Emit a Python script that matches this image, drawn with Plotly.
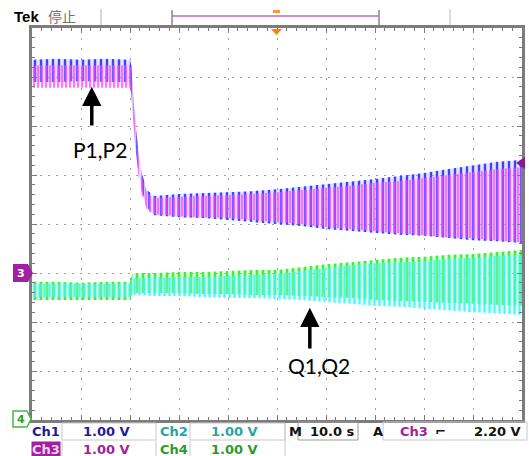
import plotly.graph_objects as go

# ---------------- data (volts, 1 V/div, time in s) -------------
t_p = [0, 5, 10, 15, 20, 20.3, 20.7, 21.2, 21.8, 22.5, 23.5, 25, 30, 35, 40, 45, 50,
       55, 60, 65, 70, 75, 80, 85, 90, 95, 100]
ch1_hi = [3.35, 3.37, 3.35, 3.37, 3.35, 3.22, 2.61, 1.96, 1.41, 1.00, 0.69, 0.57, 0.61,
          0.63, 0.65, 0.67, 0.71, 0.76, 0.82, 0.86, 0.92, 0.98, 1.04, 1.12, 1.20, 1.27, 1.31]
ch1_lo = [2.90, 2.90, 2.92, 2.90, 2.90, 2.63, 2.02, 1.47, 1.00, 0.65, 0.33, 0.18, 0.14,
          0.12, 0.08, 0.04, 0.00, -0.04, -0.10, -0.14, -0.18, -0.22, -0.24, -0.29, -0.33, -0.35, -0.39]
ch3_hi = [3.24, 3.24, 3.24, 3.24, 3.24, 3.14, 2.53, 1.90, 1.35, 0.94, 0.63, 0.53, 0.55,
          0.57, 0.59, 0.61, 0.65, 0.69, 0.73, 0.78, 0.84, 0.88, 0.94, 1.00, 1.06, 1.12, 1.16]
ch3_lo = [2.78, 2.78, 2.78, 2.78, 2.78, 2.57, 1.96, 1.41, 0.94, 0.57, 0.27, 0.20, 0.16,
          0.14, 0.12, 0.08, 0.04, 0.00, -0.06, -0.10, -0.14, -0.18, -0.22, -0.27, -0.29, -0.33, -0.37]

t_q = [0, 5, 10, 15, 20, 20.5, 25, 30, 35, 40, 45, 50, 55, 60, 65, 70, 75, 80, 85, 90, 95, 100]
ch4_hi = [-1.18, -1.18, -1.20, -1.18, -1.18, -1.00, -1.00, -0.98, -0.98, -0.96, -0.94,
          -0.94, -0.88, -0.82, -0.78, -0.73, -0.69, -0.67, -0.63, -0.61, -0.57, -0.53]
ch4_lo = [-1.55, -1.55, -1.55, -1.55, -1.55, -1.41, -1.41, -1.41, -1.43, -1.43, -1.45,
          -1.45, -1.47, -1.49, -1.51, -1.55, -1.57, -1.59, -1.61, -1.63, -1.65, -1.67]
ch2_hi = [-1.22, -1.22, -1.22, -1.22, -1.22, -1.10, -1.10, -1.08, -1.08, -1.06, -1.04,
          -1.02, -0.96, -0.90, -0.84, -0.80, -0.78, -0.76, -0.71, -0.69, -0.65, -0.63]
ch2_lo = [-1.49, -1.49, -1.49, -1.49, -1.49, -1.45, -1.47, -1.47, -1.49, -1.51, -1.51,
          -1.53, -1.55, -1.59, -1.63, -1.67, -1.69, -1.73, -1.76, -1.80, -1.82, -1.86]

p_arrow = (12.2, 2.80, 1.98)     # time, tip volts, tail volts
q_arrow = (56.7, -1.71, -2.57)
p_label = "P1,P2"
q_label = "Q1,Q2"

# readout texts
row1 = [("Ch1", "#1c1c9c"), ("1.00 V", "#1c1c9c"), ("Ch2", "#26a4a4"), ("1.00 V", "#26a4a4"),
        ("M", "#111111"), ("10.0 s", "#111111"), ("A", "#111111"), ("Ch3", "#a020a0"),
        ("2.20 V", "#111111")]
row2 = [("1.00 V", "#a020a0"), ("Ch4", "#2c9a2c"), ("1.00 V", "#2c9a2c")]

# ---------------- layout geometry ----------------
W, H = 529, 456
L, R, T, B = 32, 7, 28, 36
PW, PH = W - L - R, H - T - B


def px(x):
    return (x - L) / PW


def py(y):
    return (H - B - y) / PH


fig = go.Figure()


def band(t, lo, hi, fg, bg, size, sol, name):
    fig.add_trace(go.Scatter(x=t, y=lo, mode="lines", line=dict(width=0),
                             hoverinfo="skip", showlegend=False))
    fig.add_trace(go.Scatter(x=t, y=hi, mode="lines", line=dict(width=0), fill="tonexty",
                             fillcolor=bg,
                             fillpattern=dict(shape="|", fgcolor=fg, bgcolor=bg,
                                              size=size, solidity=sol),
                             name=name, showlegend=False))


band(t_p, ch1_lo, ch1_hi, "rgba(55,55,255,0.95)", "rgba(170,170,255,0.3)", 6, 0.4, "Ch1")
band(t_p, ch3_lo, ch3_hi, "rgba(255,50,255,0.7)", "rgba(255,180,255,0.25)", 4, 0.45, "Ch3")
band(t_q, ch4_lo, ch4_hi, "rgba(60,235,60,0.95)", "rgba(170,250,170,0.35)", 6, 0.45, "Ch4")
band(t_q, ch2_lo, ch2_hi, "rgba(50,245,245,0.85)", "rgba(180,252,252,0.3)", 5, 0.45, "Ch2")


def text_ann(x, y, txt, size, col, family, weight=400, xanchor="center", **kw):
    return dict(x=px(x), y=py(y), xref="paper", yref="paper", text=txt, showarrow=False,
                xanchor=xanchor, yanchor="middle",
                font=dict(family=family, size=size, color=col, weight=weight), **kw)


ann = []
# arrows
for (tx, tip, tail) in (p_arrow, q_arrow):
    ann.append(dict(x=tx, y=tip, ax=tx, ay=tail, xref="x", yref="y", axref="x", ayref="y",
                    text="", showarrow=True, arrowhead=2, arrowsize=1.1, arrowwidth=3.5,
                    arrowcolor="black"))
ann.append(text_ann(100, 149, p_label, 21, "black", "Lato"))
ann.append(text_ann(319, 365, q_label, 21, "black", "Lato"))

# top bar texts
ann.append(text_ann(12, 16, "Tek", 15, "black", "Liberation Sans", 700, "left"))
ann.append(text_ann(46, 16, "停止", 14, "#707070", "Noto Sans CJK SC", 400, "left"))

# readouts
RF = "DejaVu Sans"
r1x = [30, 81, 158, 209, 287, 308, 371, 398, 472]
for (txt, col), x in zip(row1, r1x):
    ann.append(text_ann(x, 431, txt, 13, col, RF, 700, "left"))
ann.append(text_ann(31, 450, "Ch3", 13, "#f0d0f0", RF, 700, "left",
                    bgcolor="#a0209f", borderpad=0))
r2x = [81, 158, 209]
for (txt, col), x in zip(row2, r2x):
    ann.append(text_ann(x, 450, txt, 13, col, RF, 700, "left"))
# trigger slope glyph
ann.append(text_ann(440, 431, "⌐", 13, "#111111", RF, 700))
# channel markers
ann.append(text_ann(21, 273, "3", 11, "white", RF, 700))
ann.append(text_ann(21, 419, "4", 11, "#2ca02c", RF, 700))

shapes = []


def rect(x0, y0, x1, y1, col, w=1):
    shapes.append(dict(type="rect", xref="paper", yref="paper", x0=px(x0), x1=px(x1),
                       y0=py(y0), y1=py(y1), line=dict(color=col, width=w)))


def line(x0, y0, x1, y1, col, w=1):
    shapes.append(dict(type="line", xref="paper", yref="paper", x0=px(x0), x1=px(x1),
                       y0=py(y0), y1=py(y1), line=dict(color=col, width=w)))


def path(pts, fill, col, w=0):
    d = "M " + " L ".join(f"{px(a)},{py(b)}" for a, b in pts) + " Z"
    shapes.append(dict(type="path", xref="paper", yref="paper", path=d, fillcolor=fill,
                       line=dict(color=col, width=w)))


# readout boxes
rect(62, 423, 156, 440, "#c8c8c8")
rect(190, 423, 285, 440, "#c8c8c8")
rect(298, 422, 358, 440, "#9a9a9a")
rect(383, 422, 527, 440, "#c8c8c8")
line(62, 441, 62, 456, "#c8c8c8")
line(156, 441, 156, 456, "#c8c8c8")
line(190, 441, 190, 456, "#c8c8c8")
line(285, 423, 285, 456, "#c8c8c8")
# top bar
line(101, 9, 101, 25, "#c8c8c8", 1.5)
line(450, 9, 450, 25, "#d0d0d0", 1.5)
line(172, 16, 379, 16, "#d48cd4", 2)
line(172, 10, 172, 25, "#888888", 1.5)
line(379, 10, 379, 25, "#888888", 1.5)
path([(273, 10), (280, 10), (280, 13), (273, 13)], "#ff9a30", "#ff9a30")
path([(271, 29), (282, 29), (276.5, 35)], "#ff8000", "#ff8000")
# channel markers
path([(13, 264), (28, 264), (33, 273), (28, 282), (13, 282)], "#a0209f", "#a0209f")
path([(13, 411), (27, 411), (31, 419), (27, 427), (13, 427)], "white", "#44bb44", 1.5)
path([(525, 157), (525, 169), (516, 163)], "#8b1a8b", "#8b1a8b")

axcommon = dict(showticklabels=False, zeroline=False, showline=True, linecolor="#7c7c7c",
                linewidth=3, mirror="allticks", ticks="inside", ticklen=5,
                tickcolor="#7a7a7a", tickwidth=1, showgrid=True, gridcolor="#a0a0a0",
                gridwidth=1, fixedrange=True, layer="above traces")
fig.update_layout(
    template="none",
    width=W, height=H, margin=dict(l=L, r=R, t=T, b=B, pad=0),
    paper_bgcolor="white", plot_bgcolor="white", showlegend=False,
    xaxis=dict(range=[0, 100], dtick=10, tick0=0, griddash="2,8",
               minor=dict(dtick=2, ticks="inside", ticklen=3, tickcolor="#7a7a7a",
                          showgrid=False), **axcommon),
    yaxis=dict(range=[-4, 4], dtick=1, tick0=0, griddash="2,6",
               minor=dict(dtick=0.2, ticks="inside", ticklen=3, tickcolor="#7a7a7a",
                          showgrid=False), **axcommon),
    annotations=ann, shapes=shapes,
)

fig.write_html("out.html")
